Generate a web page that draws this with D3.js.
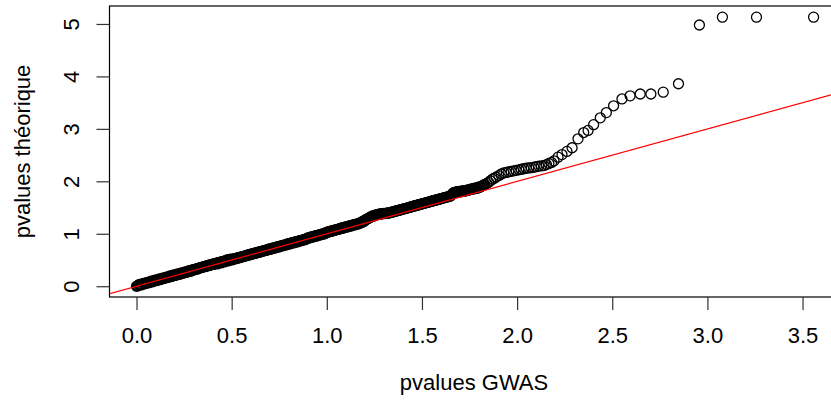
<!DOCTYPE html>
<html>
<head>
<meta charset="utf-8">
<script src="https://cdn.jsdelivr.net/npm/d3@7"></script>
<style>
body { margin: 0; background: #fff; }
svg text { font-family: "Liberation Sans", Arial, sans-serif; font-size: 22px; fill: #000; }
</style>
</head>
<body>
<svg id="qq" width="831" height="412"></svg>
<script>
var gwasDense = [
  0.00,0.01,0.02,0.03,0.04,0.05,0.06,0.07,0.08,0.09,
  0.10,0.11,0.12,0.13,0.14,0.15,0.16,0.17,0.18,0.19,
  0.20,0.21,0.22,0.23,0.24,0.25,0.26,0.27,0.28,0.29,
  0.30,0.31,0.32,0.33,0.34,0.35,0.36,0.37,0.38,0.39,
  0.40,0.41,0.42,0.43,0.44,0.45,0.46,0.47,0.48,0.49,
  0.50,0.51,0.52,0.53,0.54,0.55,0.56,0.57,0.58,0.59,
  0.60,0.61,0.62,0.63,0.64,0.65,0.66,0.67,0.68,0.69,
  0.70,0.71,0.72,0.73,0.74,0.75,0.76,0.77,0.78,0.79,
  0.80,0.81,0.82,0.83,0.84,0.85,0.86,0.87,0.88,0.89,
  0.90,0.91,0.92,0.93,0.94,0.95,0.96,0.97,0.98,0.99,
  1.00,1.01,1.02,1.03,1.04,1.05,1.06,1.07,1.08,1.09,
  1.10,1.11,1.12,1.13,1.14,1.15,1.16,1.17,1.18,1.19,
  1.20,1.21,1.22,1.23,1.24,1.25,1.26,1.27,1.28,1.29,
  1.30,1.31,1.32,1.33,1.34,1.35,1.36,1.37,1.38,1.39,
  1.40,1.41,1.42,1.43,1.44,1.45,1.46,1.47,1.48,1.49,
  1.50,1.51,1.52,1.53,1.54,1.55,1.56,1.57,1.58,1.59,
  1.60,1.61,1.62,1.63,1.64,1.65,
  1.66,1.67,1.68,1.69,1.70,1.71,1.72,1.73,1.74,1.75,
  1.76,1.77,1.78,1.79,1.80,1.81,1.82,1.83,1.84,1.85,
  1.86,1.87,1.88,1.89
]
var theoriqueDense = [
  0.00,0.02,0.03,0.04,0.05,0.06,0.07,0.08,0.09,0.10,
  0.11,0.12,0.13,0.14,0.15,0.16,0.17,0.18,0.19,0.20,
  0.21,0.22,0.23,0.24,0.25,0.26,0.27,0.28,0.29,0.30,
  0.31,0.32,0.33,0.35,0.36,0.37,0.38,0.39,0.40,0.41,
  0.42,0.43,0.44,0.45,0.46,0.47,0.48,0.49,0.50,0.51,
  0.51,0.52,0.53,0.54,0.55,0.56,0.57,0.58,0.59,0.60,
  0.61,0.62,0.63,0.64,0.65,0.66,0.67,0.68,0.69,0.70,
  0.71,0.72,0.73,0.74,0.75,0.76,0.77,0.78,0.79,0.80,
  0.81,0.82,0.83,0.84,0.85,0.86,0.87,0.88,0.89,0.90,
  0.92,0.93,0.94,0.95,0.96,0.97,0.98,0.99,1.00,1.01,
  1.03,1.04,1.05,1.06,1.07,1.08,1.09,1.10,1.11,1.12,
  1.13,1.14,1.15,1.16,1.17,1.18,1.19,1.20,1.22,1.24,
  1.26,1.28,1.30,1.32,1.34,1.35,1.36,1.37,1.38,1.38,
  1.39,1.39,1.40,1.40,1.41,1.42,1.43,1.44,1.45,1.46,
  1.47,1.48,1.49,1.50,1.51,1.52,1.53,1.54,1.55,1.56,
  1.57,1.58,1.59,1.60,1.61,1.62,1.63,1.64,1.65,1.66,
  1.67,1.68,1.69,1.70,1.71,1.72,
  1.76,1.79,1.80,1.80,1.81,1.81,1.82,1.82,1.83,1.84,
  1.85,1.86,1.86,1.87,1.88,1.90,1.92,1.94,1.96,1.98,
  2.01,2.04,2.06,2.08
]
// the in-between points of the dense band (it is solid black in the plot)
var gwasBetween = [
  0.005,0.015,0.025,0.035,0.045,0.055,0.065,0.075,0.085,0.095,
  0.105,0.115,0.125,0.135,0.145,0.155,0.165,0.175,0.185,0.195,
  0.205,0.215,0.225,0.235,0.245,0.255,0.265,0.275,0.285,0.295,
  0.305,0.315,0.325,0.335,0.345,0.355,0.365,0.375,0.385,0.395,
  0.405,0.415,0.425,0.435,0.445,0.455,0.465,0.475,0.485,0.495,
  0.505,0.515,0.525,0.535,0.545,0.555,0.565,0.575,0.585,0.595,
  0.605,0.615,0.625,0.635,0.645,0.655,0.665,0.675,0.685,0.695,
  0.705,0.715,0.725,0.735,0.745,0.755,0.765,0.775,0.785,0.795,
  0.805,0.815,0.825,0.835,0.845,0.855,0.865,0.875,0.885,0.895,
  0.905,0.915,0.925,0.935,0.945,0.955,0.965,0.975,0.985,0.995,
  1.005,1.015,1.025,1.035,1.045,1.055,1.065,1.075,1.085,1.095,
  1.105,1.115,1.125,1.135,1.145,1.155,1.165,1.175,1.185,1.195,
  1.205,1.215,1.225,1.235,1.245,1.255,1.265,1.275,1.285,1.295,
  1.305,1.315,1.325,1.335,1.345,1.355,1.365,1.375,1.385,1.395,
  1.405,1.415,1.425,1.435,1.445,1.455,1.465,1.475,1.485,1.495,
  1.505,1.515,1.525,1.535,1.545,1.555,1.565,1.575,1.585,1.595,
  1.605,1.615,1.625,1.635,1.645,1.655,
  1.665,1.675,1.685,1.695,1.705,1.715,1.725,1.735,1.745,1.755,
  1.765,1.775,1.785,1.795,1.805,1.815,1.825
]
var theoriqueBetween = [
  0.005,0.035,0.025,0.055,0.045,0.075,0.065,0.095,0.085,0.115,
  0.105,0.135,0.125,0.155,0.145,0.175,0.165,0.195,0.185,0.215,
  0.205,0.235,0.225,0.255,0.245,0.275,0.265,0.295,0.285,0.315,
  0.315,0.335,0.335,0.355,0.355,0.375,0.375,0.395,0.395,0.415,
  0.415,0.435,0.425,0.455,0.445,0.475,0.465,0.495,0.485,0.515,
  0.505,0.525,0.525,0.545,0.545,0.565,0.565,0.585,0.585,0.605,
  0.605,0.625,0.625,0.645,0.645,0.665,0.665,0.685,0.685,0.705,
  0.705,0.725,0.725,0.745,0.745,0.765,0.765,0.785,0.785,0.805,
  0.805,0.825,0.825,0.845,0.845,0.865,0.865,0.885,0.885,0.905,
  0.915,0.935,0.935,0.955,0.955,0.975,0.975,0.995,0.995,1.015,
  1.025,1.045,1.045,1.065,1.065,1.085,1.085,1.105,1.105,1.125,
  1.125,1.145,1.145,1.165,1.165,1.185,1.185,1.205,1.215,1.235,
  1.265,1.285,1.305,1.325,1.335,1.355,1.365,1.375,1.375,1.385,
  1.385,1.395,1.395,1.405,1.415,1.425,1.435,1.445,1.455,1.465,
  1.475,1.485,1.495,1.505,1.515,1.525,1.535,1.545,1.555,1.565,
  1.575,1.585,1.595,1.605,1.615,1.625,1.635,1.645,1.655,1.665,
  1.675,1.685,1.695,1.705,1.715,1.74,
  1.78,1.79,1.80,1.81,1.80,1.82,1.81,1.83,1.83,1.85,
  1.85,1.87,1.87,1.89,1.89,1.91,1.93
]
// upper tail, where single circles can be told apart
var gwasTail = [
  1.904,1.917,1.930,1.943,1.956,1.969,1.982,1.995,2.009,2.022,2.035,2.048,
  2.061,2.075,2.088,2.101,2.114,2.128,2.141,2.154,2.167,2.181,2.194,
  2.215,2.236,2.262,2.289,2.320,2.350,2.373,2.402,2.437,2.469,2.507,2.551,
  2.594,2.647,2.703,2.768,2.848,2.958,3.079,3.258,3.558
]
var theoriqueTail = [
  2.11,2.14,2.16,2.17,2.18,2.19,2.20,2.21,2.22,2.23,2.24,2.25,
  2.255,2.26,2.27,2.28,2.29,2.295,2.30,2.32,2.34,2.36,2.39,
  2.46,2.51,2.57,2.64,2.81,2.93,2.97,3.08,3.21,3.31,3.44,3.57,
  3.63,3.665,3.665,3.70,3.86,4.98,5.13,5.13,5.13
]

var xTicks = [0, 0.5, 1, 1.5, 2, 2.5, 3, 3.5]
var yTicks = [0, 1, 2, 3, 4, 5]
var xTitle = 'pvalues GWAS'
var yTitle = 'pvalues théorique'

var allGwas = gwasDense.concat(gwasBetween, gwasTail)
var allTheo = theoriqueDense.concat(theoriqueBetween, theoriqueTail)
var points = allGwas.map(function(g, i) { return { gwas: g, theo: allTheo[i] } })

var svg = d3.select('#qq')
var x = d3.scaleLinear().domain([-0.142, 3.70]).range([109.5, 840.6])
var y = d3.scaleLinear().domain([-0.2055, 5.3425]).range([297, 6])

svg.append('clipPath').attr('id', 'plotArea')
    .append('rect')
    .attr('x', x.range()[0]).attr('y', y.range()[1])
    .attr('width', x.range()[1] - x.range()[0])
    .attr('height', y.range()[0] - y.range()[1])

svg.append('g')
    .selectAll('circle')
    .data(points)
    .enter()
    .append('circle')
    .attr('cx', function(d) { return x(d.gwas) })
    .attr('cy', function(d) { return y(d.theo) })
    .attr('r', 5)
    .attr('fill', 'none')
    .attr('stroke', '#000')
    .attr('stroke-width', 1.3)

// y = x reference line
svg.append('line')
    .attr('clip-path', 'url(#plotArea)')
    .attr('x1', x(-0.2)).attr('y1', y(-0.2))
    .attr('x2', x(3.8)).attr('y2', y(3.8))
    .attr('stroke', '#ff0000')
    .attr('stroke-width', 1.2)

svg.append('rect')
    .attr('x', x.range()[0]).attr('y', y.range()[1])
    .attr('width', x.range()[1] - x.range()[0])
    .attr('height', y.range()[0] - y.range()[1])
    .attr('fill', 'none')
    .attr('stroke', '#000')
    .attr('stroke-width', 1.2)

var xAxis = svg.append('g')
    .attr('transform', 'translate(0,' + y.range()[0] + ')')
    .call(d3.axisBottom(x).tickValues(xTicks).tickFormat(d3.format('.1f')).tickSize(13).tickPadding(17))
xAxis.select('.domain').remove()
xAxis.selectAll('line').attr('stroke', '#333').attr('stroke-width', 1.2)
xAxis.selectAll('text').attr('font-size', null).attr('font-family', null)

var yAxis = svg.append('g')
    .attr('transform', 'translate(' + x.range()[0] + ',0)')
    .call(d3.axisLeft(y).tickValues(yTicks).tickFormat(d3.format('d')).tickSize(13))
yAxis.select('.domain').remove()
yAxis.selectAll('line').attr('stroke', '#333').attr('stroke-width', 1.2)
yAxis.selectAll('text')
    .attr('font-size', null).attr('font-family', null)
    .attr('x', 0).attr('y', 0).attr('dy', '0.36em')
    .attr('text-anchor', 'middle')
    .attr('transform', 'translate(-38,0) rotate(-90)')

svg.append('text')
    .attr('x', (x.range()[0] + x.range()[1]) / 2 - 1)
    .attr('y', 390)
    .attr('text-anchor', 'middle')
    .text(xTitle)

svg.append('text')
    .attr('transform', 'translate(22,' + (y.range()[0] + y.range()[1]) / 2 + ') rotate(-90)')
    .attr('dy', '0.36em')
    .attr('text-anchor', 'middle')
    .text(yTitle)
</script>
</body>
</html>
